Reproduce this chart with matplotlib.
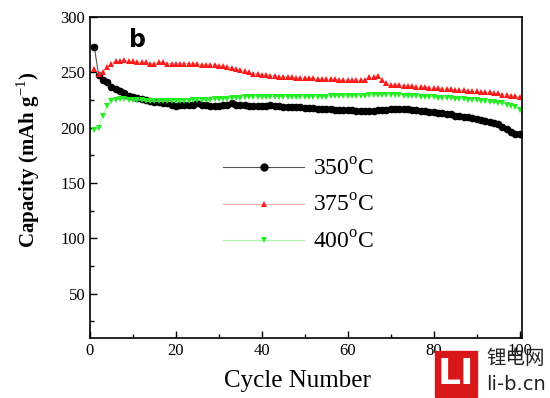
import matplotlib.pyplot as plt
import numpy as np
from matplotlib.patches import Rectangle
from matplotlib.ticker import MultipleLocator

cycles = list(range(1, 101))
cap_350 = [273, 248, 243, 241, 237, 235, 233, 231, 229, 228,
           227, 226, 225, 224, 223, 223, 222, 222, 221, 220,
           221, 221, 221, 221, 222, 221, 221, 220, 220, 220,
           221, 221, 222, 221, 221, 221, 220, 220, 220, 220,
           220, 221, 220, 220, 219, 219, 219, 219, 219, 218,
           218, 218, 217, 217, 217, 217, 216, 216, 216, 216,
           216, 215, 215, 215, 215, 215, 216, 216, 216, 217,
           217, 217, 217, 217, 216, 216, 215, 215, 214, 214,
           213, 213, 212, 212, 211, 211, 210, 210, 209, 208,
           207, 206, 205, 204, 203, 201, 199, 196, 194, 194]
cap_375 = [253, 249, 250, 255, 258, 260, 260, 261, 260, 260,
           259, 259, 259, 258, 258, 259, 259, 258, 258, 258,
           258, 258, 258, 258, 258, 257, 257, 257, 257, 256,
           256, 255, 254, 253, 252, 251, 250, 249, 249, 248,
           248, 247, 247, 246, 246, 246, 246, 245, 245, 245,
           245, 245, 244, 244, 244, 244, 244, 243, 243, 243,
           243, 243, 243, 243, 246, 246, 247, 243, 240, 239,
           239, 239, 238, 238, 238, 237, 237, 237, 236, 236,
           236, 235, 235, 235, 234, 234, 234, 233, 233, 233,
           232, 232, 232, 231, 231, 230, 230, 229, 229, 228]
cap_400 = [198, 200, 211, 220, 224, 225, 226, 226, 225, 225,
           225, 225, 224, 224, 224, 224, 224, 224, 224, 224,
           224, 224, 224, 225, 225, 225, 225, 225, 226, 226,
           226, 226, 227, 227, 227, 228, 228, 228, 228, 228,
           228, 228, 228, 228, 228, 228, 228, 228, 228, 228,
           228, 228, 228, 228, 228, 229, 229, 229, 229, 229,
           229, 229, 229, 229, 230, 230, 230, 230, 230, 230,
           230, 230, 229, 229, 229, 229, 228, 228, 228, 228,
           227, 227, 227, 227, 226, 226, 226, 225, 225, 225,
           224, 224, 223, 223, 222, 222, 221, 220, 219, 216]
labels = ["350$^{\\rm o}$C", "375$^{\\rm o}$C", "400$^{\\rm o}$C"]

plt.rcParams['font.family'] = 'Liberation Serif'
plt.rcParams['mathtext.fontset'] = 'custom'
plt.rcParams['mathtext.rm'] = 'Liberation Serif'

fig = plt.figure(figsize=(5.5, 3.98), dpi=100)
ax = fig.add_axes([0.1636, 0.151, 0.785, 0.806])

ax.plot(cycles, cap_350, color='#555555', marker='o', ms=4.5, lw=0.8,
        mfc='black', mec='black', label=labels[0])
ax.plot(cycles, cap_375, color='#f2b0b0', marker='^', ms=4.5, lw=0.8,
        mfc='#ff1a1a', mec='#ff1a1a', mew=0, label=labels[1])
ax.plot(cycles, cap_400, color='#b0f0b0', marker='v', ms=4.5, lw=0.8,
        mfc='#22ee22', mec='#22ee22', mew=0, label=labels[2])

ax.set_xlim(0, 100.5)
ax.set_ylim(10, 300)
ax.xaxis.set_major_locator(MultipleLocator(20))
ax.xaxis.set_minor_locator(MultipleLocator(10))
ax.yaxis.set_minor_locator(MultipleLocator(25))
ax.set_yticks([50, 100, 150, 200, 250, 300])
ax.tick_params(which='both', direction='in', top=False, right=False, labelsize=12)
ax.tick_params(which='major', length=5, width=1)
ax.tick_params(which='minor', length=3, width=1)
for s in ax.spines.values():
    s.set_linewidth(1.2)

ax.set_xlabel("Cycle Number", fontsize=18)
ax.xaxis.set_label_coords(0.48, -0.10)
ax.set_ylabel("Capacity (mAh g$^{-1}$)", fontsize=15, fontweight='bold')
ax.yaxis.set_label_coords(-0.11, 0.555)
ax.text(0.09, 0.93, "b", transform=ax.transAxes, fontsize=17, fontweight='bold',
        family='DejaVu Sans', va='center')

leg = ax.legend(loc='upper left', bbox_to_anchor=(0.26, 0.625), frameon=False,
                fontsize=17, handlelength=3.4, labelspacing=0.6, handletextpad=0.4,
                markerscale=1.1)

# watermark
fig.patches.append(Rectangle((435 / 550, 1 - 397 / 398), 42 / 550, 46 / 398,
                             transform=fig.transFigure, color='#d81818'))
fig.text(456 / 550, 1 - 374 / 398, "LI", color='white', fontsize=26, fontweight='bold',
         family='DejaVu Sans', ha='center', va='center')
fig.text(516 / 550, 1 - 359 / 398, "锂电网", fontsize=14, family='Noto Sans CJK SC',
         ha='center', va='center', color='#222222')
fig.text(516 / 550, 1 - 385 / 398, "li-b.cn", fontsize=14, family='DejaVu Sans',
         ha='center', va='center', color='#222222')

fig.savefig("out.png", dpi=100)
